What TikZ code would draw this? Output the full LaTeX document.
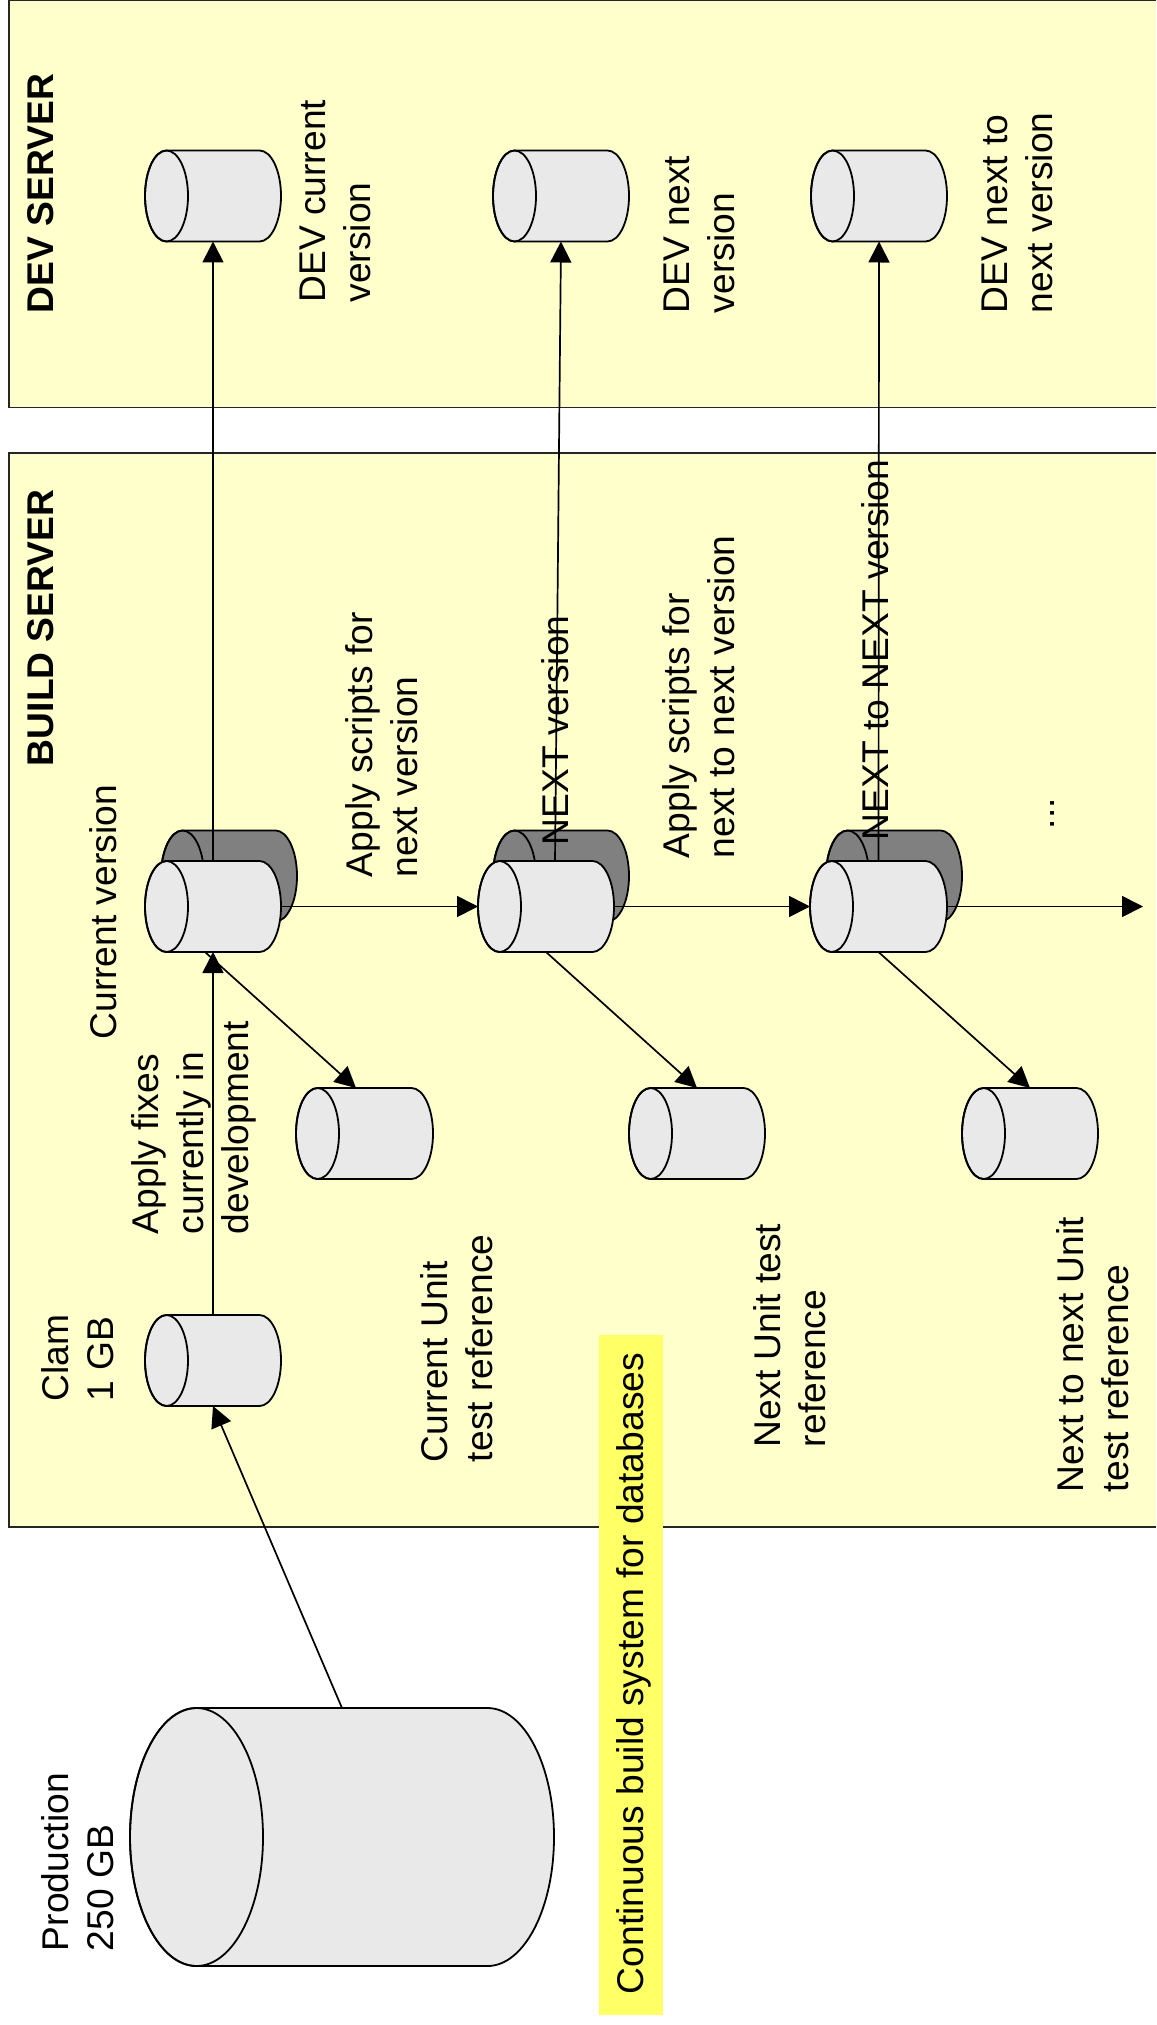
\documentclass[tikz,border=0pt]{standalone}
\usepackage{fontspec}
\setmainfont{Liberation Sans}
\usetikzlibrary{arrows.meta,calc}
\definecolor{boxyellow}{HTML}{FFFFCC}
\definecolor{cylfill}{HTML}{E9E9E9}
\definecolor{cyldark}{HTML}{808080}
\definecolor{notefill}{HTML}{FFFF66}
\newcommand{\dbcyl}[7]{%
  \node[minimum width=#4pt,minimum height=#5pt,inner sep=0pt,outer sep=0pt] (#1) at ({#2+#4/2},{#3+#5/2}) {};
  \pgfmathsetmacro{\cylmidy}{#3+#5/2}
  \pgfmathsetmacro{\cylry}{#5/2}
  \filldraw[cylline,fill=#7] ({#2+#6},#3) -- ({#2+#4-#6},#3)
     arc[start angle=-90,end angle=90,x radius=#6,y radius=\cylry]
     -- ({#2+#6},{#3+#5})
     arc[start angle=90,end angle=270,x radius=#6,y radius=\cylry] -- cycle;
  \draw[cylline] ({#2+#6},\cylmidy) ellipse[x radius=#6,y radius=\cylry];
}
\tikzset{
  cylline/.style={line width=1.8pt,draw=black},
  conn/.style={line width=1.7pt,draw=black,-{Triangle[length=21pt,width=21pt]}},
  lbl/.style={rotate=90,anchor=west,inner sep=0pt,outer sep=0pt,align=left,font=\fontsize{37.2}{45}\selectfont,text=black},
  boldlbl/.style={lbl,font=\fontsize{37.2}{45}\selectfont\bfseries},
  panel/.style={fill=boxyellow,draw=none,inner sep=0pt,outer sep=0pt,anchor=north west},
  note/.style={fill=notefill,draw=none,inner sep=0pt,outer sep=0pt,anchor=north west}
}
\begin{document}
\begin{tikzpicture}[x=1pt,y=-1pt]
\useasboundingbox (0,0) rectangle (1156,2025);
\fill[white] (0,0) rectangle (1156,2025);
% panels
\node[panel,minimum width=1147pt,minimum height=407pt] (devpanel) at (9,0.5) {};
\node[panel,minimum width=1147pt,minimum height=1074pt] (buildpanel) at (9,453) {};
\draw[line width=1.7pt,draw=black!85] (devpanel.north east) -- (devpanel.north west) -- (devpanel.south west) -- (devpanel.south east);
\draw[line width=1.7pt,draw=black!85] (buildpanel.north east) -- (buildpanel.north west) -- (buildpanel.south west) -- (buildpanel.south east);
\node[note,minimum width=64pt,minimum height=680pt] (notebox) at (599,1335) {};

% free connector ends
\coordinate (nextstem) at (555,861);
\coordinate (curtest) at (205,952);
\coordinate (curtesttip) at (356,1088);
\coordinate (endtip) at (1143,906.5);

% back cylinders
\dbcyl{curback}{161}{830.5}{136}{91}{21.5}{cyldark}
\dbcyl{nextback}{493}{830.5}{136}{91}{21.5}{cyldark}
\dbcyl{nnback}{826}{830.5}{136}{91}{21.5}{cyldark}

% front cylinders
\dbcyl{cur}{145}{861}{136}{91}{21.5}{cylfill}
\dbcyl{next}{478}{861}{136}{91}{21.5}{cylfill}
\dbcyl{nn}{810}{861}{137}{91}{21.5}{cylfill}
\dbcyl{curt}{296}{1088}{137}{91}{21.5}{cylfill}
\dbcyl{nextt}{629}{1088}{136}{91}{21.5}{cylfill}
\dbcyl{nnt}{962}{1088}{136}{91}{21.5}{cylfill}
\dbcyl{clam}{145}{1315}{136}{91}{21.5}{cylfill}
\dbcyl{devcur}{145}{150.5}{136}{91}{21.5}{cylfill}
\dbcyl{devnext}{493}{150.5}{136}{91}{21.5}{cylfill}
\dbcyl{devnn}{811}{150.5}{136}{91}{21.5}{cylfill}
\dbcyl{prod}{130}{1708}{424}{258}{66.5}{cylfill}

% connectors
\draw[conn] (cur.north) -- (devcur.south);
\draw[conn] (nextstem) -- (devnext.south);
\draw[conn] (nn.north) -- (devnn.south);
\draw[conn] (clam.north) -- (cur.south);
\draw[conn] (curtest) -- (curtesttip);
\draw[conn] (next.south) -- (nextt.north);
\draw[conn] (nn.south) -- (nnt.north);
\draw[conn] (cur.east) -- (next.west);
\draw[conn] (next.east) -- (nn.west);
\draw[conn] (nn.east) -- (endtip);
\draw[conn] (prod.north) -- (clam.south);

% labels
\node[boldlbl] (tdev) at (41,313) {DEV SERVER};
\node[lbl] (tdevcur) at (335,302.5) {DEV current\\version};
\node[lbl] (tdevnext) at (699,313) {DEV next\\version};
\node[lbl] (tdevnn) at (1017,313) {DEV next to\\next version};
\node[boldlbl] (tbuild) at (41,766) {BUILD SERVER};
\node[lbl] (tcur) at (103,1039.5) {Current version};
\node[lbl] (tfix) at (194,1234) {Apply fixes\\currently in\\development};
\node[lbl] (tclam) at (78,1401.5) {Clam\\1 GB};
\node[lbl] (tcurt) at (457,1462) {Current Unit\\test reference};
\node[lbl] (tapply1) at (382,877) {Apply scripts for\\next version};
\node[lbl] (tnext) at (555,845) {NEXT version};
\node[lbl] (tnextt) at (790,1447) {Next Unit test\\reference};
\node[lbl] (tapply2) at (699,858) {Apply scripts for\\next to next version};
\node[lbl] (tnnv) at (875,840) {NEXT to NEXT version};
\node[lbl] (tdots) at (1052,829) {...};
\node[lbl] (tnnt) at (1093,1492) {Next to next Unit\\test reference};
\node[lbl] (tprod) at (78,1951) {Production\\250 GB};
\node[lbl] (tnote) at (634,1994) {Continuous build system for databases};
\end{tikzpicture}
\end{document}
